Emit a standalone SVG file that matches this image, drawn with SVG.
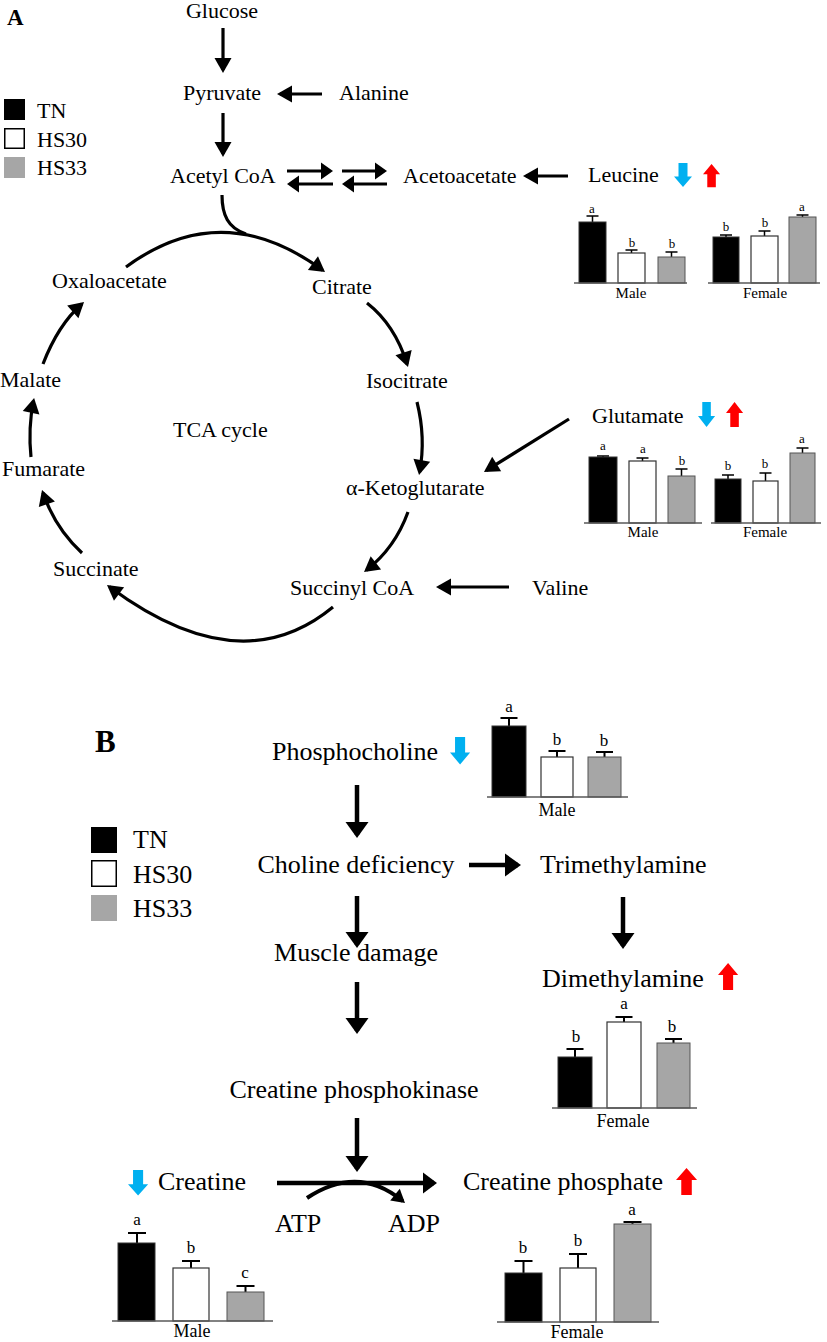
<svg xmlns="http://www.w3.org/2000/svg" width="827" height="1342" viewBox="0 0 827 1342">
<style>
text{font-family:"Liberation Serif","Times New Roman",serif;fill:#000}
.ta{font-size:22px}
.tb{font-size:26px}
.sl{font-size:13px}
.cl{font-size:15px}
.slb{font-size:17px}
.clb{font-size:18px}
.ctr{text-anchor:middle}
.la{fill:none;stroke:#000;stroke-width:3.2}
.lb{fill:none;stroke:#000;stroke-width:4.5}
.bk{fill:#000;stroke:#333;stroke-width:1}
.wh{fill:#fff;stroke:#333;stroke-width:1.2}
.gr{fill:#a6a6a6;stroke:#555;stroke-width:1}
.ax{stroke:#595959;stroke-width:1.5}
.er{stroke:#000;stroke-width:1.5;fill:none}
.erb{stroke:#000;stroke-width:2;fill:none}
.blue{fill:#00b0f0}
.red{fill:#ff0000}
</style>
<defs>
<marker id="mA" markerUnits="userSpaceOnUse" markerWidth="15" markerHeight="17" refX="12" refY="8.5" orient="auto" overflow="visible"><path d="M0,0 L15,8.5 L0,17 Z" fill="#000"/></marker>
<marker id="mD" markerUnits="userSpaceOnUse" markerWidth="12" markerHeight="17" refX="9" refY="8.5" orient="auto" overflow="visible"><path d="M0,0 L12,8.5 L0,17 Z" fill="#000"/></marker>
<marker id="mB" markerUnits="userSpaceOnUse" markerWidth="16" markerHeight="23" refX="13" refY="11.5" orient="auto" overflow="visible"><path d="M0,0 L16,11.5 L0,23 Z" fill="#000"/></marker>
<marker id="mR" markerUnits="userSpaceOnUse" markerWidth="14" markerHeight="21" refX="11" refY="10.5" orient="auto" overflow="visible"><path d="M0,0 L14,10.5 L0,21 Z" fill="#000"/></marker>
<marker id="mS" markerUnits="userSpaceOnUse" markerWidth="13" markerHeight="15" refX="10" refY="7.5" orient="auto" overflow="visible"><path d="M0,0 L13,7.5 L0,15 Z" fill="#000"/></marker>
<path id="dn" d="M4.5,0 H13.5 V14 H18 L9,25 L0,14 H4.5 Z"/>
<path id="up" d="M9,0 L18,11 H13.5 V25 H4.5 V11 H0 Z"/>
</defs>

<!-- Panel labels -->
<text x="7" y="25" style="font-size:23px;font-weight:bold">A</text>
<text x="95" y="752" style="font-size:31px;font-weight:bold">B</text>

<!-- Legend A -->
<g id="legendA">
<rect x="4" y="99" width="21" height="21" fill="#000"/>
<rect x="4.75" y="128.75" width="19.5" height="19.5" fill="#fff" stroke="#000" stroke-width="1.5"/>
<rect x="4" y="157" width="21" height="21" fill="#a6a6a6"/>
<text class="ta" x="37" y="118">TN</text>
<text class="ta" x="37" y="147">HS30</text>
<text class="ta" x="37" y="175">HS33</text>
</g>

<!-- Connectors -->
<g id="connectors">
<!-- Panel A -->
<path class="la" d="M223,28 V70" marker-end="url(#mA)"/>
<path class="la" d="M322,94 H280" marker-end="url(#mA)"/>
<path class="la" d="M223,113 V154" marker-end="url(#mA)"/>
<path class="la" d="M287,171 H330" marker-end="url(#mD)"/>
<path class="la" d="M333,184 H290" marker-end="url(#mD)"/>
<path class="la" d="M342,171 H384" marker-end="url(#mD)"/>
<path class="la" d="M387,184 H345" marker-end="url(#mD)"/>
<path class="la" d="M568,176 H526" marker-end="url(#mA)"/>
<path class="la" d="M222,195 C222,215 228,228 246,234"/>
<path class="la" d="M126,267 Q222,196 322.6,270.2" marker-end="url(#mA)"/>
<path class="la" d="M367,303 Q395,325 407.1,364.1" marker-end="url(#mA)"/>
<path class="la" d="M417,402 Q426,438 419.6,472" marker-end="url(#mA)"/>
<path class="la" d="M408,512 Q395,548 366.4,570.2" marker-end="url(#mA)"/>
<path class="la" d="M333,607 Q240,684 109.4,586.8" marker-end="url(#mA)"/>
<path class="la" d="M82,553 Q55,528 43,492.8" marker-end="url(#mA)"/>
<path class="la" d="M31,457 Q28,428 33.5,401" marker-end="url(#mA)"/>
<path class="la" d="M43,364 Q58,325 81.8,304" marker-end="url(#mA)"/>
<path class="la" d="M569,419 L486.5,470.4" marker-end="url(#mA)"/>
<path class="la" d="M509,587 H439" marker-end="url(#mA)"/>
<!-- Panel B -->
<path class="lb" d="M357,785 V835" marker-end="url(#mB)"/>
<path class="lb" d="M357,896 V945" marker-end="url(#mB)"/>
<path class="lb" d="M469,865 H518" marker-end="url(#mB)"/>
<path class="lb" d="M623,897 V946" marker-end="url(#mB)"/>
<path class="lb" d="M357,982 V1031" marker-end="url(#mB)"/>
<path class="lb" d="M357,1118 V1169" marker-end="url(#mB)"/>
<path class="lb" d="M277,1183 H434" marker-end="url(#mR)"/>
<path class="la" style="stroke-width:4" d="M307,1198 Q358,1164 402.7,1201" marker-end="url(#mS)"/>
</g>

<!-- Panel A nodes -->
<g id="n-glucose"><text class="ta ctr" x="222" y="18">Glucose</text></g>
<g id="n-pyruvate"><text class="ta ctr" x="222" y="100">Pyruvate</text></g>
<g id="n-alanine"><text class="ta" x="339" y="100">Alanine</text></g>
<g id="n-acetylcoa"><text class="ta" x="170" y="183">Acetyl CoA</text></g>
<g id="n-acetoacetate"><text class="ta" x="403" y="183">Acetoacetate</text></g>
<g id="n-leucine"><text class="ta" x="588" y="182">Leucine</text>
<use href="#dn" class="blue" transform="translate(674,163) scale(1,0.96)"/>
<use href="#up" class="red" transform="translate(703,164) scale(0.95,0.93)"/>
</g>
<g id="n-citrate"><text class="ta" x="312" y="294">Citrate</text></g>
<g id="n-oxaloacetate"><text class="ta" x="52" y="288">Oxaloacetate</text></g>
<g id="n-isocitrate"><text class="ta" x="366" y="388">Isocitrate</text></g>
<g id="n-malate"><text class="ta" x="0" y="387">Malate</text></g>
<g id="n-tca"><text class="ta" x="173" y="437">TCA cycle</text></g>
<g id="n-fumarate"><text class="ta" x="2" y="476">Fumarate</text></g>
<g id="n-akg"><text class="ta" x="346" y="495">α-Ketoglutarate</text></g>
<g id="n-glutamate"><text class="ta" x="592" y="423">Glutamate</text>
<use href="#dn" class="blue" transform="translate(698,402) scale(0.95,1)"/>
<use href="#up" class="red" transform="translate(726,402) scale(0.95,1)"/>
</g>
<g id="n-succinate"><text class="ta" x="53" y="576">Succinate</text></g>
<g id="n-succinylcoa"><text class="ta" x="290" y="595">Succinyl CoA</text></g>
<g id="n-valine"><text class="ta" x="532" y="595">Valine</text></g>

<!-- Leucine charts -->
<g id="chart-leucine-male">
<path class="er" d="M592.5,222 V216 M586.5,216 H598.5 M631.5,253 V250 M625.5,250 H637.5 M671.5,257 V252 M665.5,252 H677.5"/>
<rect class="bk" x="579" y="222" width="27" height="61"/>
<rect class="wh" x="618" y="253" width="27" height="30"/>
<rect class="gr" x="658" y="257" width="27" height="26"/>
<line class="ax" x1="574" y1="283" x2="687" y2="283"/>
<text class="sl ctr" x="592" y="213">a</text>
<text class="sl ctr" x="632" y="247">b</text>
<text class="sl ctr" x="672" y="248">b</text>
<text class="cl ctr" x="631" y="298">Male</text>
</g>
<g id="chart-leucine-female">
<path class="er" d="M726,237 V235 M720,235 H732 M764.5,236 V231 M758.5,231 H770.5 M802.5,217 V215 M796.5,215 H808.5"/>
<rect class="bk" x="713" y="237" width="26" height="46"/>
<rect class="wh" x="751" y="236" width="27" height="47"/>
<rect class="gr" x="789" y="217" width="27" height="66"/>
<line class="ax" x1="708" y1="283" x2="820" y2="283"/>
<text class="sl ctr" x="726" y="231">b</text>
<text class="sl ctr" x="765" y="227">b</text>
<text class="sl ctr" x="802" y="211">a</text>
<text class="cl ctr" x="765" y="298">Female</text>
</g>

<!-- Glutamate charts -->
<g id="chart-glutamate-male">
<path class="er" d="M603,457 V456 M597,456 H609 M642.5,461 V458 M636.5,458 H648.5 M681.5,476 V469 M675.5,469 H687.5"/>
<rect class="bk" x="589" y="457" width="28" height="66"/>
<rect class="wh" x="629" y="461" width="27" height="62"/>
<rect class="gr" x="668" y="476" width="27" height="47"/>
<line class="ax" x1="584" y1="523" x2="702" y2="523"/>
<text class="sl ctr" x="603" y="450">a</text>
<text class="sl ctr" x="643" y="453">a</text>
<text class="sl ctr" x="682" y="465">b</text>
<text class="cl ctr" x="643" y="537">Male</text>
</g>
<g id="chart-glutamate-female">
<path class="er" d="M728,479 V475 M722,475 H734 M765.5,481 V473 M759.5,473 H771.5 M802.5,453 V448 M796.5,448 H808.5"/>
<rect class="bk" x="715" y="479" width="26" height="44"/>
<rect class="wh" x="753" y="481" width="25" height="42"/>
<rect class="gr" x="790" y="453" width="25" height="70"/>
<line class="ax" x1="711" y1="523" x2="821" y2="523"/>
<text class="sl ctr" x="728" y="470">b</text>
<text class="sl ctr" x="765" y="468">b</text>
<text class="sl ctr" x="802" y="443">a</text>
<text class="cl ctr" x="765" y="537">Female</text>
</g>

<!-- Legend B -->
<g id="legendB">
<rect x="91" y="827" width="26" height="26" fill="#000"/>
<rect x="91.75" y="860.75" width="24.5" height="25.5" fill="#fff" stroke="#000" stroke-width="1.5"/>
<rect x="91" y="895" width="26" height="26" fill="#a6a6a6"/>
<text class="tb" x="133" y="848">TN</text>
<text class="tb" x="133" y="883">HS30</text>
<text class="tb" x="133" y="917">HS33</text>
</g>

<!-- Panel B nodes -->
<g id="n-phosphocholine"><text class="tb" x="272" y="760">Phosphocholine</text>
<use href="#dn" class="blue" transform="translate(450,737) scale(1.12,1.1)"/>
</g>
<g id="n-choline"><text class="tb ctr" x="356" y="873">Choline deficiency</text></g>
<g id="n-trimethylamine"><text class="tb" x="540" y="873">Trimethylamine</text></g>
<g id="n-muscle"><text class="tb ctr" x="356" y="961">Muscle damage</text></g>
<g id="n-dimethylamine"><text class="tb" x="542" y="987">Dimethylamine</text>
<use href="#up" class="red" transform="translate(718,963) scale(1.12,1.08)"/>
</g>
<g id="n-cpk"><text class="tb ctr" x="354" y="1098">Creatine phosphokinase</text></g>
<g id="n-creatine"><text class="tb" x="158" y="1190">Creatine</text>
<use href="#dn" class="blue" transform="translate(128,1170) scale(1.12,1.02)"/>
</g>
<g id="n-creatinephosphate"><text class="tb" x="463" y="1190">Creatine phosphate</text>
<use href="#up" class="red" transform="translate(676,1168) scale(1.17,1.08)"/>
</g>
<g id="n-atp"><text class="tb" x="275" y="1232">ATP</text></g>
<g id="n-adp"><text class="tb" x="388" y="1232">ADP</text></g>

<!-- Phosphocholine chart -->
<g id="chart-phosphocholine-male">
<path class="erb" d="M509,726 V718 M500.5,718 H517.5 M557,757 V751 M548.5,751 H565.5 M604.5,757 V752 M596,752 H613"/>
<rect class="bk" x="492" y="726" width="34" height="71"/>
<rect class="wh" x="541" y="757" width="32" height="40"/>
<rect class="gr" x="588" y="757" width="33" height="40"/>
<line class="ax" x1="487" y1="797" x2="628" y2="797"/>
<text class="slb ctr" x="509" y="712">a</text>
<text class="slb ctr" x="557" y="745">b</text>
<text class="slb ctr" x="604" y="746">b</text>
<text class="clb ctr" x="557" y="816">Male</text>
</g>

<!-- Dimethylamine chart -->
<g id="chart-dimethylamine-female">
<path class="erb" d="M575,1057 V1049 M566.5,1049 H583.5 M624,1022 V1017 M615.5,1017 H632.5 M673.5,1043 V1039 M665,1039 H682"/>
<rect class="bk" x="558" y="1057" width="34" height="51"/>
<rect class="wh" x="607" y="1022" width="34" height="86"/>
<rect class="gr" x="657" y="1043" width="33" height="65"/>
<line class="ax" x1="552" y1="1108" x2="697" y2="1108"/>
<text class="slb ctr" x="576" y="1042">b</text>
<text class="slb ctr" x="624" y="1009">a</text>
<text class="slb ctr" x="672" y="1032">b</text>
<text class="clb ctr" x="623" y="1127">Female</text>
</g>

<!-- Creatine chart -->
<g id="chart-creatine-male">
<path class="erb" d="M137,1243 V1233 M128,1233 H146 M191,1268 V1261 M182,1261 H200 M245.5,1292 V1286 M236.5,1286 H254.5"/>
<rect class="bk" x="118" y="1243" width="37" height="78"/>
<rect class="wh" x="173" y="1268" width="36" height="53"/>
<rect class="gr" x="227" y="1292" width="37" height="29"/>
<line class="ax" x1="112" y1="1321" x2="273" y2="1321"/>
<text class="slb ctr" x="137" y="1225">a</text>
<text class="slb ctr" x="191" y="1253">b</text>
<text class="slb ctr" x="245" y="1278">c</text>
<text class="clb ctr" x="192" y="1337">Male</text>
</g>

<!-- Creatine phosphate chart -->
<g id="chart-creatinephosphate-female">
<path class="erb" d="M523.5,1273 V1261 M514.5,1261 H532.5 M578,1268 V1254 M569,1254 H587 M632.5,1224 V1222 M623.5,1222 H641.5"/>
<rect class="bk" x="505" y="1273" width="37" height="49"/>
<rect class="wh" x="560" y="1268" width="36" height="54"/>
<rect class="gr" x="614" y="1224" width="37" height="98"/>
<line class="ax" x1="497" y1="1322" x2="659" y2="1322"/>
<text class="slb ctr" x="523" y="1253">b</text>
<text class="slb ctr" x="578" y="1246">b</text>
<text class="slb ctr" x="632" y="1215">a</text>
<text class="clb ctr" x="577" y="1338">Female</text>
</g>
</svg>
